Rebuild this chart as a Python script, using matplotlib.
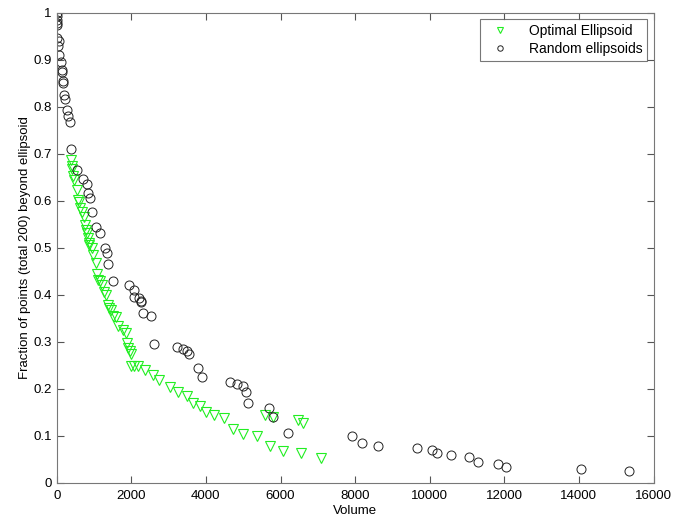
import matplotlib.pyplot as plt

plt.rcParams['font.family'] = ['Liberation Sans', 'DejaVu Sans']

# Optimal ellipsoid (green triangles)
opt_vol = [383, 400, 420, 446, 470, 536, 563, 590, 620, 670, 720, 759, 790, 815,
           830, 860, 875, 938, 982, 1054, 1072, 1116, 1161, 1206, 1277, 1321, 1366,
           1411, 1455, 1500, 1589, 1652, 1768, 1857, 1875, 1920, 1965, 1991, 1982,
           2080, 2187, 2366, 2590, 2751, 3038, 3261, 3485, 3646, 3842, 4003, 4217,
           4485, 4735, 4986, 5378, 5583, 5717, 5807, 6057, 6478, 6540, 6594, 7076]
opt_frac = [0.687, 0.675, 0.667, 0.652, 0.645, 0.623, 0.602, 0.598, 0.585, 0.577,
            0.565, 0.549, 0.539, 0.531, 0.521, 0.51, 0.506, 0.499, 0.485, 0.467,
            0.445, 0.432, 0.43, 0.421, 0.407, 0.4, 0.379, 0.372, 0.368, 0.355,
            0.352, 0.334, 0.325, 0.318, 0.297, 0.287, 0.281, 0.274, 0.249, 0.249,
            0.249, 0.24, 0.23, 0.219, 0.205, 0.194, 0.184, 0.17, 0.164, 0.152,
            0.145, 0.138, 0.114, 0.104, 0.099, 0.145, 0.079, 0.14, 0.069, 0.135,
            0.063, 0.127, 0.053]

# Random ellipsoids (black circles)
rnd_vol = [0, 0, 0, 0, 0, 10, 60, 40, 60, 115, 130, 150, 160, 175, 195, 220, 268,
           311, 356, 383, 536, 713, 804, 848, 892, 955, 1045, 1161, 1295, 1340,
           1367, 1518, 1946, 2072, 2080, 2214, 2259, 2265, 2321, 2518, 2607, 3215,
           3394, 3484, 3537, 3795, 3885, 4644, 4840, 5001, 5064, 5135, 5690, 5806,
           6207, 7906, 8190, 8619, 9648, 10050, 10200, 10560, 11059, 11300, 11838,
           12036, 14054, 15333]
rnd_frac = [1.0, 0.994, 0.985, 0.979, 0.974, 0.946, 0.939, 0.93, 0.911, 0.896,
            0.879, 0.875, 0.855, 0.85, 0.826, 0.817, 0.794, 0.781, 0.767, 0.711,
            0.666, 0.646, 0.635, 0.616, 0.606, 0.576, 0.545, 0.531, 0.499, 0.49,
            0.466, 0.43, 0.421, 0.411, 0.395, 0.393, 0.388, 0.384, 0.361, 0.355,
            0.296, 0.29, 0.286, 0.281, 0.274, 0.245, 0.226, 0.214, 0.211, 0.207,
            0.194, 0.17, 0.16, 0.14, 0.106, 0.1, 0.084, 0.079, 0.075, 0.07, 0.064,
            0.06, 0.055, 0.045, 0.04, 0.033, 0.03, 0.026]

fig = plt.figure(figsize=(6.86, 5.19), dpi=100)
ax = fig.add_axes([0.0827, 0.0694, 0.87, 0.906])

ax.plot(opt_vol, opt_frac, 'v', mfc='none', mec='#22ee22', ms=6.5, mew=0.8,
        label='Optimal Ellipsoid')
ax.plot(rnd_vol, rnd_frac, 'o', mfc='none', mec='#222222', ms=6.5, mew=0.7,
        label='Random ellipsoids')

ax.set_xlim(0, 16000)
ax.set_ylim(0, 1)
ax.set_xticks(range(0, 16001, 2000))
ax.set_yticks([i / 10 for i in range(11)])
ax.set_yticklabels(['0', '0.1', '0.2', '0.3', '0.4', '0.5', '0.6', '0.7', '0.8', '0.9', '1'])
ax.tick_params(direction='in', top=True, right=True, labelsize=9.5, length=5,
               color='#555555')
ax.tick_params(axis='x', pad=5)
for s in ax.spines.values():
    s.set_color('#777777')

ax.set_xlabel('Volume', fontsize=9.5, labelpad=2)
ax.set_ylabel('Fraction of points (total 200) beyond ellipsoid', fontsize=9.5, labelpad=2)

leg = ax.legend(loc='upper right', fontsize=10, fancybox=False, borderaxespad=0.45,
                markerscale=0.6, handletextpad=1.0, borderpad=0.35, labelspacing=0.3,
                handlelength=2.2)
leg.get_frame().set_edgecolor('#555555')
leg.get_frame().set_linewidth(0.8)

plt.savefig('out.png', dpi=100)
